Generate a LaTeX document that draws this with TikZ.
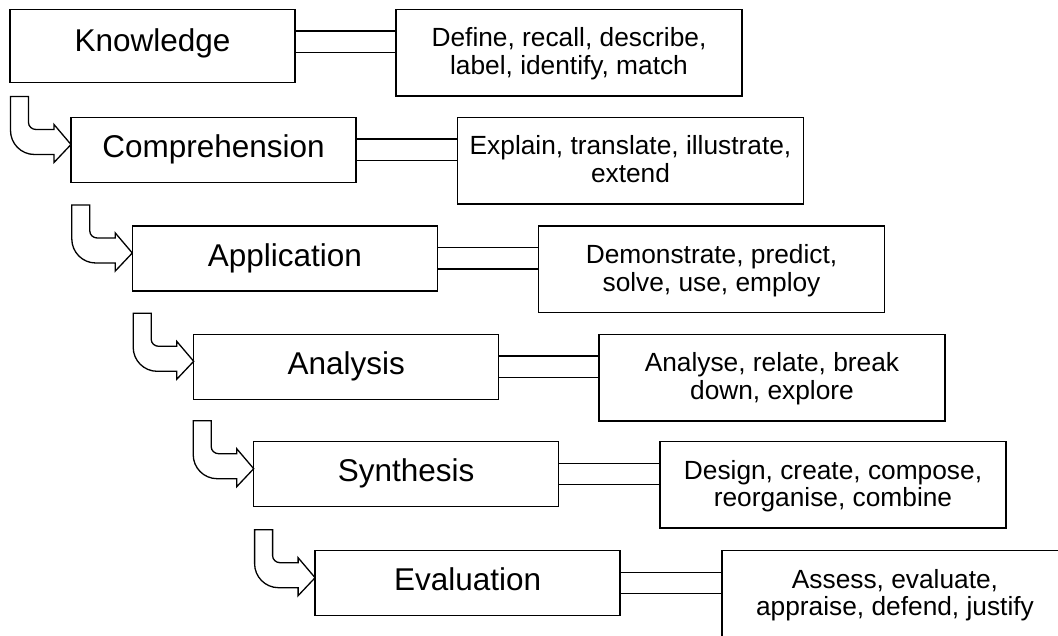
\documentclass[tikz,border=0pt]{standalone}
\usepackage{fontspec}
\setmainfont{Liberation Sans}
\usetikzlibrary{calc}
\tikzset{
  lbox/.style={draw, line width=1.5pt, inner sep=0pt, outer sep=0pt, anchor=north west,
    minimum width=305pt, minimum height=65pt, text height=23pt, text depth=7.5pt,
    font=\fontsize{31.5}{36}\selectfont},
  rbox/.style={draw, line width=1.5pt, inner sep=0pt, outer sep=0pt, anchor=north west,
    minimum width=346pt, minimum height=86.5pt},
  rtext/.style={inner sep=0pt, anchor=base, font=\fontsize{26.3}{28}\selectfont},
  link/.style={line width=1.5pt},
  barrow/.style={draw, fill=white, line width=1.3pt, line join=miter}
}
\newcommand\bentarr[1]{%
  \path[barrow] ($(#1.north west)+(-42.5,-21)$) -- ($(#1.north west)+(-42.5,5)$)
    .. controls ($(#1.north west)+(-42.5,9)$) and ($(#1.north west)+(-39,12)$) .. ($(#1.north west)+(-35,12)$)
    -- ($(#1.north west)+(-17,12)$) -- ($(#1.north west)+(-17,7)$)
    -- ($(#1.north west)+(0,27)$) -- ($(#1.north west)+(-17,45)$)
    -- ($(#1.north west)+(-17,37)$) -- ($(#1.north west)+(-36.5,37)$)
    .. controls ($(#1.north west)+(-50,37)$) and ($(#1.north west)+(-60.5,26)$) .. ($(#1.north west)+(-60.5,13)$)
    -- ($(#1.north west)+(-60.5,-21)$) -- cycle;}
\newcommand\dbl[2]{%
  \draw[link] ($(#1.north east)+(0,21.7)$) -- ($(#2.north west)+(0,21.7)$);
  \draw[link] ($(#1.north east)+(0,43)$) -- ($(#2.north west)+(0,43)$);}
\begin{document}
\begin{tikzpicture}[x=1pt, y=-1pt]
\useasboundingbox (0,0) rectangle (1058,635);
\clip (0,0) rectangle (1058,635);
% left boxes
\node[lbox, minimum width=285pt, minimum height=73.4pt, text depth=13pt] (k) at (10,9.3) {Knowledge};
\node[lbox, minimum width=285pt] (c) at (71,117.5) {Comprehension};
\node[lbox] (a) at (132.3,226) {Application};
\node[lbox] (an) at (193.7,334.3) {Analysis};
\node[lbox] (s) at (253.7,441.7) {Synthesis};
\node[lbox] (e) at (315.1,550.7) {Evaluation};
% right boxes
\node[rbox] (rk) at (396,9.3) {};
\node[rbox] (rc) at (457.5,117.5) {};
\node[rbox] (ra) at (538.5,226) {};
\node[rbox] (ran) at (599,334.3) {};
\node[rbox] (rs) at (660,441.7) {};
\node[rbox] (re) at (722,550.7) {};
% texts
\node[rtext] (rk1) at ($(rk.north)+(0,37.3)$) {Define, recall, describe,};
\node[rtext] (rk2) at ($(rk.north)+(0,65)$) {label, identify, match};
\node[rtext] (rc1) at ($(rc.north)+(0,37.3)$) {Explain, translate, illustrate,};
\node[rtext] (rc2) at ($(rc.north)+(0,65)$) {extend};
\node[rtext] (ra1) at ($(ra.north)+(0,37.3)$) {Demonstrate, predict,};
\node[rtext] (ra2) at ($(ra.north)+(0,65)$) {solve, use, employ};
\node[rtext] (ran1) at ($(ran.north)+(0,37.3)$) {Analyse, relate, break};
\node[rtext] (ran2) at ($(ran.north)+(0,65)$) {down, explore};
\node[rtext] (rs1) at ($(rs.north)+(0,37.3)$) {Design, create, compose,};
\node[rtext] (rs2) at ($(rs.north)+(0,65)$) {reorganise, combine};
\node[rtext] (re1) at ($(re.north)+(0,37.3)$) {Assess, evaluate,};
\node[rtext] (re2) at ($(re.north)+(0,65)$) {appraise, defend, justify};
% double connectors
\dbl{k}{rk}
\dbl{c}{rc}
\dbl{a}{ra}
\dbl{an}{ran}
\dbl{s}{rs}
\dbl{e}{re}
% bent arrows
\bentarr{c}
\bentarr{a}
\bentarr{an}
\bentarr{s}
\bentarr{e}
\end{tikzpicture}
\end{document}
